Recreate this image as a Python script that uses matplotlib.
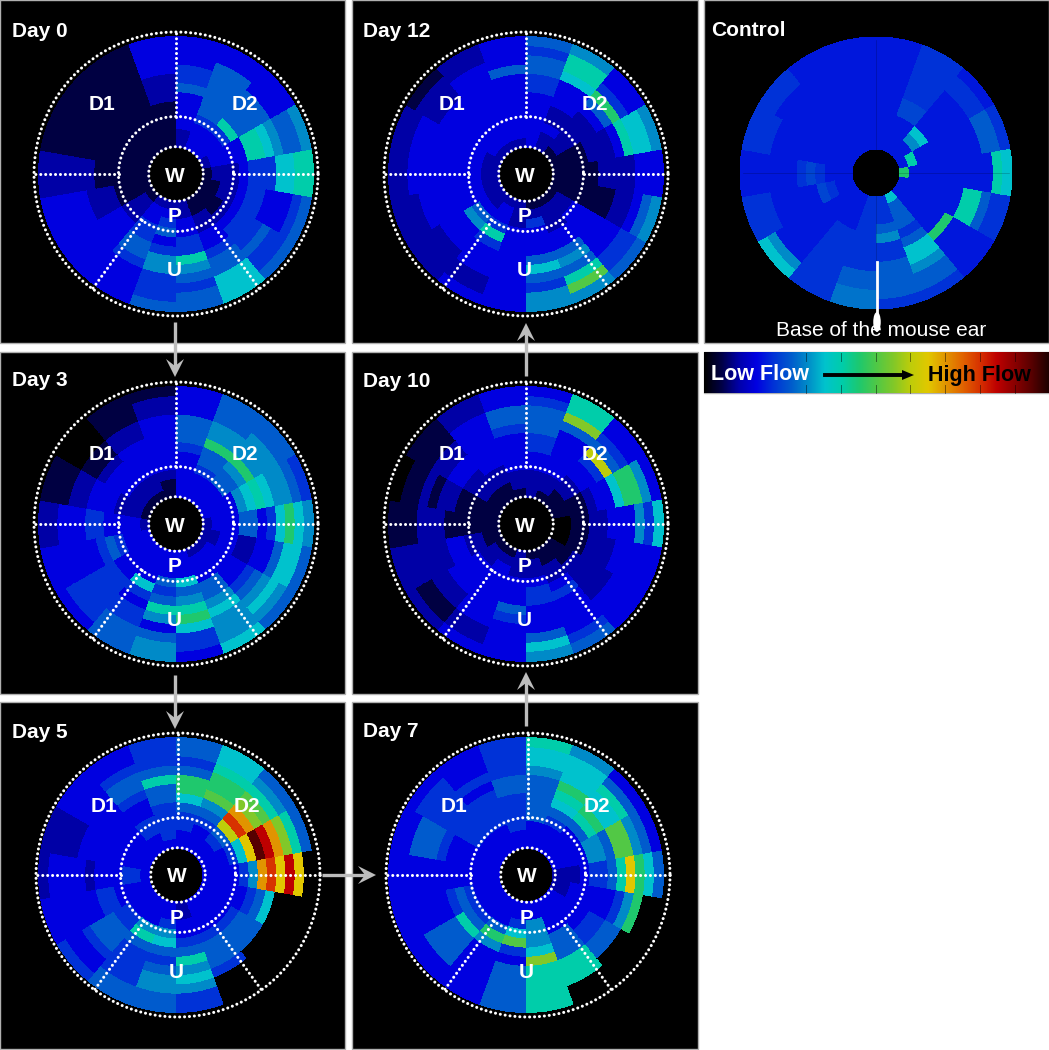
import numpy as np
import matplotlib
matplotlib.use("Agg")
import matplotlib.pyplot as plt
from matplotlib.colors import LinearSegmentedColormap
from matplotlib.patches import Rectangle, Polygon, Ellipse

W, H = 1049, 1050
plt.rcParams['font.family'] = ['Liberation Sans', 'DejaVu Sans']

# Flow level per 20-degree sector (clockwise from north), rings inner -> outer. Scale 0-20.
day0 = [
 [2,2,3,3,3,3,5,4,4,3,3,3],[3,3,3,4,5,5,5,5,5,5,3,3],[3,3,3,4,8,5,5,5,5,3,3,3],
 [2,3,3,3,3,8,8,7,6,5,5,6],[1,2,2,2,3,4,4,4,7,7,8,8],[1,1,2,2,3,4,4,3,3,3,4,5],
 [1,1,1,2,3,4,4,4,5,4,4,5],[1,1,2,2,3,3,4,5,5,7,7,7],[2,2,3,3,4,4,8,6,5,4,5,5],
 [2,3,4,5,3,4,6,6,4,4,4,5],[2,3,3,4,4,5,5,4,3,3,3,3],[1,2,2,2,3,3,3,3,3,3,3,3],
 [1,1,1,1,2,2,2,3,3,3,3,3],[1,1,1,1,1,1,2,2,2,2,2,2],[1,1,1,1,1,1,1,1,1,1,1,1],
 [1,1,1,1,1,1,1,1,1,1,1,1],[1,1,1,1,1,1,1,1,1,1,1,1],[1,1,1,1,1,2,2,2,3,3,3,3]]
day3 = [
 [3,3,3,3,3,4,5,5,5,3,3,3],[3,3,3,4,5,5,9,6,6,5,5,5],[3,3,3,5,5,6,9,6,6,6,5,5],
 [3,3,3,3,6,7,8,7,6,6,5,4],[2,3,3,3,5,5,3,4,7,9,7,6],[2,2,3,3,2,2,3,3,5,7,7,5],
 [2,3,3,3,3,3,4,5,6,7,6,5],[2,3,3,3,5,5,6,7,6,6,6,7],[3,3,3,7,5,6,8,9,7,4,4,3],
 [3,3,3,5,4,5,8,6,3,5,6,6],[3,3,3,3,7,4,3,4,4,5,5,5],[3,3,3,3,3,4,4,4,4,4,4,3],
 [3,3,3,4,5,4,3,3,3,3,3,3],[2,3,3,3,3,4,4,3,3,3,2,2],[1,2,2,2,3,3,3,2,2,1,1,1],
 [1,2,2,3,3,3,2,1,1,0,0,0],[1,2,2,3,3,3,3,2,2,1,1,1],[1,1,2,3,3,3,3,3,3,2,2,1]]
day5 = [
 [3,3,4,4,5,7,9,9,5,4,5,5],[3,3,3,4,5,6,10,9,9,8,7,7],[3,3,4,5,12,16,14,11,10,8,6,5],
 [3,3,3,4,7,13,19,17,14,11,8,5],[3,3,3,3,4,6,14,16,13,17,13,0],[3,3,3,3,3,4,5,7,0,0,0,0],
 [3,3,3,3,4,5,5,5,0,0,0,0],[3,3,3,3,4,5,5,5,4,0,0,0],[2,2,3,3,4,5,8,6,7,6,4,4],
 [3,3,4,6,7,5,4,5,6,6,5,5],[3,3,3,6,8,5,4,4,4,4,5,5],[3,3,3,4,4,5,5,5,4,3,3,4],
 [3,3,3,3,4,4,3,3,3,3,3,3],[3,4,4,3,3,3,2,3,3,3,3,2],[3,3,3,3,3,3,3,3,2,2,2,2],
 [3,3,3,3,3,3,3,3,3,3,3,3],[3,3,4,4,3,3,4,5,5,4,3,3],[3,4,4,4,4,5,5,8,5,4,4,4]]
day7 = [
 [3,3,3,5,5,5,5,5,6,7,7,8],[3,3,3,4,5,7,8,9,7,7,7,6],[3,3,3,3,5,8,9,7,7,8,5,3],
 [3,3,3,3,6,6,5,10,10,6,5,3],[2,2,2,3,4,4,5,8,13,9,7,5],[2,2,3,3,3,3,3,4,6,9,0,0],
 [3,3,3,3,3,4,4,5,5,0,0,0],[3,3,3,3,5,5,5,8,8,8,0,0],[3,3,6,6,6,7,11,8,8,8,8,8],
 [3,3,4,7,10,4,3,5,5,5,5,5],[3,3,3,5,9,6,3,3,3,3,3,3],[3,3,3,4,5,8,5,5,5,5,3,3],
 [3,3,3,4,5,4,3,3,3,3,3,3],[3,3,3,3,3,3,3,3,3,3,3,3],[3,3,3,3,3,3,4,5,5,5,3,3],
 [3,3,3,4,4,4,4,4,4,4,4,3],[3,3,3,4,4,4,4,3,4,3,3,3],[3,3,4,4,4,4,5,5,4,4,4,4]]
day10 = [
 [2,2,2,3,3,4,4,5,5,5,4,3],[1,2,2,3,3,3,3,3,5,11,8,8],[1,1,2,2,3,3,4,12,5,4,3,3],
 [1,1,1,1,2,3,3,7,9,9,6,3],[0,0,1,1,2,2,3,3,3,6,4,7],[0,0,1,1,2,2,2,3,3,3,3,3],
 [1,1,1,2,2,2,2,2,3,3,3,3],[1,1,2,2,3,4,3,3,3,3,4,5],[1,2,2,3,4,4,3,3,3,5,7,6],
 [2,2,2,3,3,3,5,4,3,3,3,3],[1,2,3,3,3,3,3,3,3,2,2,3],[1,2,2,3,3,3,3,2,2,1,1,2],
 [1,1,2,2,3,3,2,2,2,2,2,2],[1,1,1,1,1,1,2,2,2,1,1,1],[1,1,1,1,1,2,2,1,2,1,1,0],
 [1,1,2,2,2,3,3,2,2,1,1,1],[1,1,2,2,3,3,3,3,3,3,2,2],[1,2,2,3,3,3,3,4,5,5,3,3]]
day12 = [
 [3,3,3,3,3,3,4,4,5,5,4,5],[2,2,3,2,2,3,3,3,7,8,8,6],[1,2,2,2,2,2,3,5,9,4,3,3],
 [1,1,1,1,2,2,2,3,8,7,7,6],[1,1,1,1,1,2,2,2,2,3,3,3],[1,1,1,1,1,1,1,2,2,3,5,6],
 [1,2,2,3,3,3,3,3,3,4,4,5],[1,2,2,2,3,3,5,6,5,8,10,6],[1,2,4,3,3,3,5,7,5,4,6,6],
 [2,2,2,3,3,3,3,3,3,3,3,3],[2,3,3,4,8,4,3,3,3,2,2,3],[2,2,3,5,6,3,3,3,2,2,2,2],
 [2,2,3,3,3,3,3,3,3,2,2,2],[2,2,3,3,3,3,3,3,3,3,2,2],[2,2,3,3,3,3,3,3,3,3,2,2],
 [2,3,3,3,3,3,3,3,2,2,2,1],[2,3,3,3,3,3,3,3,3,3,2,2],[2,3,3,3,3,3,3,3,5,3,3,3]]
control = [
 [3.5,3.5,3.5,3.5,3.5,3.5,3.5,3.5,3.5,3.5,3.5,3.5],[3.5,3.5,3.5,3.5,4.5,4.5,4,4,4,4,4,4],
 [3.5,3.5,6,7,3.5,3.5,3.5,3.5,3.5,4,4,3.5],[3.5,8,3.5,3.5,3.5,3.5,3.5,3.5,3.5,5,5,4],
 [9,3.5,3.5,3.5,3.5,3.5,3.5,3.5,3.5,3.5,8,7],[3.5,3.5,3.5,3.5,3.5,3.5,3.5,8,8,5,4,4],
 [3.5,3.5,3.5,3.5,3.5,3.5,9,3.5,3.5,3.5,3.5,3.5],[7,5,5,5,4,5,7,7,6,5,5,4],
 [4,4,4,5,6,4,4,5,5,5,5,4],[4,4,4,4,4,4,4,4,5,5,5.5,5.5],[3.5,3.5,3.5,3.5,4,4,4,4,4,4,4,4],
 [3.5,3.5,3.5,3.5,3.5,3.5,3.5,3.5,3.5,3.5,6,7],[3.5,3.5,4,4.5,3.5,3.5,3.5,3.5,3.5,4,4,4],
 [3.5,3.5,3.5,4,4.5,4,3.5,3.5,3.5,3.5,3.5,3.5],[3.5,3.5,3.5,3.5,3.5,3.5,3.5,3.5,3.5,4,4,4],
 [3.5,3.5,3.5,3.5,3.5,3.5,3.5,3.5,3.5,3.5,4,4],[3.5,3.5,3.5,3.5,3.5,3.5,3.5,3.5,3.5,3.5,3.5,3.5],
 [3.5,3.5,3.5,3.5,3.5,3.5,3.5,3.5,3.5,3.5,3.5,3.5]]

titles = ["Day 0", "Day 3", "Day 5", "Day 7", "Day 10", "Day 12", "Control"]
region_labels = ["D1", "D2", "W", "P", "U"]
levels_max = 20

anchors = [(0,0,0),(0,0,70),(0,0,170),(0,0,225),(0,50,215),(0,90,205),(0,140,200),
           (0,195,205),(0,205,170),(30,200,110),(80,200,70),(130,200,40),(190,205,10),
           (225,200,0),(225,150,0),(225,100,0),(215,50,0),(190,0,0),(140,0,0),(90,0,0),(30,0,0)]
cmap = LinearSegmentedColormap.from_list("flow", [tuple(c/255 for c in a) for a in anchors], N=256)

panels = [
 (day0,  (0,0,345,343),     (176,174), (176,174), (12,37)),
 (day3,  (0,352,345,694),   (176,524), (176,524), (12,386)),
 (day5,  (0,702,345,1049),  (176,875), (178,875), (12,738)),
 (day7,  (352,702,698,1049),(526,875), (528,875), (363,737)),
 (day10, (352,352,698,694), (526,524), (526,524), (363,387)),
 (day12, (352,0,698,343),   (526,174), (526,174), (363,37)),
 (control,(704,0,1049,343), (876,173), None,      (711,36)),
]

fig = plt.figure(figsize=(W/100, H/100), dpi=100, facecolor='white')
base = fig.add_axes([0, 0, 1, 1], zorder=0)
base.set_xlim(0, W); base.set_ylim(H, 0); base.axis('off')
over = fig.add_axes([0, 0, 1, 1], zorder=5)
over.set_xlim(0, W); over.set_ylim(H, 0); over.axis('off'); over.patch.set_alpha(0)

GRAY = '#bdbdbd'
RL = 145
for (data, rect, c, dc, tp), title in zip(panels, titles):
    x0, y0, x1, y1 = rect
    base.add_patch(Rectangle((x0, y0), x1-x0, y1-y0, fc='black', ec='#b0b0b0', lw=1))
    ax = fig.add_axes([(c[0]-RL)/W, 1-(c[1]+RL)/H, 2*RL/W, 2*RL/H], projection='polar', zorder=1)
    ax.set_theta_zero_location('N'); ax.set_theta_direction(-1)
    ax.set_facecolor('black')
    rin, rout = (24, 136) if dc is None else (27, 137.5)
    arr = np.array(data, float)
    nsec, nring = arr.shape
    dr = (rout-rin)/nring
    dth = 2*np.pi/nsec
    for j in range(nring):
        cols = cmap(arr[:, j]/levels_max)
        ax.bar((np.arange(nsec)+0.5)*dth, dr, width=dth, bottom=rin+j*dr, color=cols,
               edgecolor='none', linewidth=0, antialiased=False, align='center')
    ax.set_ylim(0, RL); ax.axis('off')
    over.text(tp[0], tp[1], title, color='white', fontsize=15, fontweight='bold', va='baseline')
    if dc is None:
        continue
    cx, cy = dc
    ds = dict(color='white', lw=2.2, dash_capstyle='round', linestyle=(0, (0.01, 1.6)))
    t = np.linspace(0, 2*np.pi, 500)
    for R in (142, 57.5, 27.3):
        over.plot(cx+R*np.cos(t), cy+R*np.sin(t), **ds)
    for ang in (0, 90, 144, 216, 270):
        a = np.deg2rad(ang)
        over.plot([cx+57.5*np.sin(a), cx+142*np.sin(a)], [cy-57.5*np.cos(a), cy-142*np.cos(a)], **ds)
    for lab, (dx, dy) in zip(region_labels, [(-74,-69),(69,-69),(-1,2),(-1,43),(-2,97)]):
        over.text(cx+dx, cy+dy, lab, color='white', fontsize=15, fontweight='bold', ha='center', va='center')

# control extras
over.plot([876, 876], [40, 306], color='black', lw=0.5, alpha=0.25)
over.plot([743, 1009], [173, 173], color='black', lw=0.5, alpha=0.25)
over.plot([877, 877], [262, 318], color='white', lw=2)
over.add_patch(Ellipse((877, 322), 7.5, 20, fc='white', ec='none'))
over.text(881, 331, "Base of the mouse ear", color='white', fontsize=15, ha='center', va='center')

# colour bar
bar_ax = fig.add_axes([704/W, 1-393/H, 345/W, 41/H], zorder=1)
bar_ax.imshow(np.linspace(0, 1, 512)[None, :], cmap=cmap, aspect='auto', extent=[704, 1049, 0, 41])
bar_ax.axis('off')
for xt in (806, 841, 876, 910, 945, 980, 1015):
    over.plot([xt, xt], [353, 361], color='black', lw=0.7, alpha=0.45)
    over.plot([xt, xt], [385, 393], color='black', lw=0.7, alpha=0.45)
base.add_patch(Rectangle((704, 352), 345, 41, fc='none', ec='#b0b0b0', lw=1))
over.text(711, 375, "Low Flow", color='white', fontsize=15.5, fontweight='bold', va='center')
over.text(928, 375, "High Flow", color='black', fontsize=15.5, fontweight='bold', va='center')
over.plot([825, 905], [375, 375], color='black', lw=2.8)
over.add_patch(Polygon([(914, 375), (902, 370), (902, 380)], fc='black', ec='none'))

def arrow(x0, y0, x1, y1):
    d = np.array([x1-x0, y1-y0], float); L = np.hypot(*d); u = d/L; n = np.array([-u[1], u[0]])
    tip = np.array([x1, y1], float)
    over.plot([x0, x1-u[0]*8], [y0, y1-u[1]*8], color=GRAY, lw=2.4, solid_capstyle='butt')
    pts = [tip, tip-u*18+n*9, tip-u*11, tip-u*18-n*9]
    over.add_patch(Polygon(pts, fc=GRAY, ec='none'))

arrow(175, 322, 175, 377)
arrow(175, 675, 175, 729)
arrow(322, 875, 376, 875)
arrow(526, 726, 526, 672)
arrow(526, 376, 526, 323)

fig.savefig("out.png", dpi=100, facecolor='white')
